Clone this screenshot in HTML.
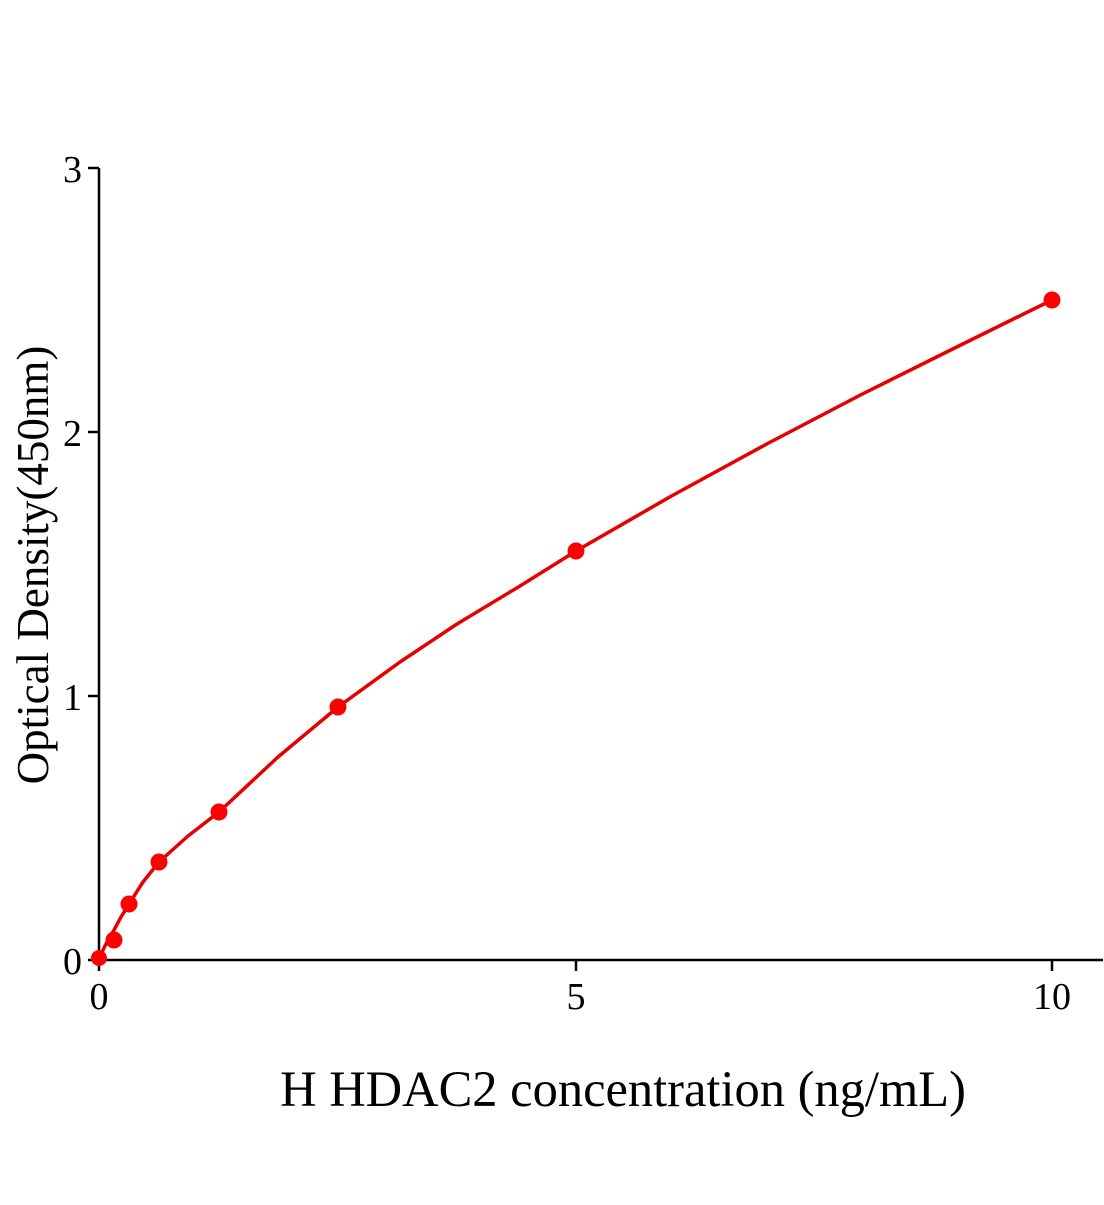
<!DOCTYPE html>
<html><head><meta charset="utf-8"><style>body{margin:0;background:#fff}</style></head>
<body>
<svg width="1104" height="1200" xmlns="http://www.w3.org/2000/svg" font-family="Liberation Serif, serif">
<rect width="1104" height="1200" fill="#fff"/>
<g stroke="#000" stroke-width="2.5" fill="none">
<line x1="99" y1="168" x2="99" y2="961"/>
<line x1="98" y1="960" x2="1103" y2="960"/>
<line x1="88" y1="168" x2="99" y2="168"/>
<line x1="88" y1="432" x2="99" y2="432"/>
<line x1="88" y1="696" x2="99" y2="696"/>
<line x1="88" y1="960" x2="99" y2="960"/>
<line x1="99" y1="960" x2="99" y2="971"/>
<line x1="576" y1="960" x2="576" y2="971"/>
<line x1="1052" y1="960" x2="1052" y2="971"/>
</g>
<g font-size="38" fill="#000" text-anchor="end">
<text x="82" y="182">3</text>
<text x="82" y="446">2</text>
<text x="82" y="710">1</text>
<text x="82" y="974">0</text>
</g>
<g font-size="38" fill="#000" text-anchor="middle">
<text x="99" y="1009">0</text>
<text x="576" y="1009">5</text>
<text x="1052" y="1009">10</text>
</g>
<text x="623" y="1106" font-size="50.5" text-anchor="middle">H HDAC2 concentration (ng/mL)</text>
<text transform="translate(48,565) rotate(-90)" font-size="45" text-anchor="middle">Optical Density(450nm)</text>
<polyline fill="none" stroke="#e60000" stroke-width="3.5" stroke-linejoin="round" points="99,960 103,950 108,940 114,930 121,917 129,904 143,882 159,862 188,836 219,812 278,757 338,707 400,662 457,624 520,586 576,551 670.8,496.4 766,444.4 861.4,394.5 956.7,347 1052,300"/>
<g fill="#f00">
<circle cx="99" cy="958" r="8"/>
<circle cx="114" cy="940" r="8.5"/>
<circle cx="129" cy="904" r="8.5"/>
<circle cx="159" cy="862" r="8.5"/>
<circle cx="219" cy="812" r="8.5"/>
<circle cx="338" cy="707" r="8.5"/>
<circle cx="576" cy="551" r="8.5"/>
<circle cx="1052" cy="300" r="8.5"/>
</g>
</svg>
</body></html>
